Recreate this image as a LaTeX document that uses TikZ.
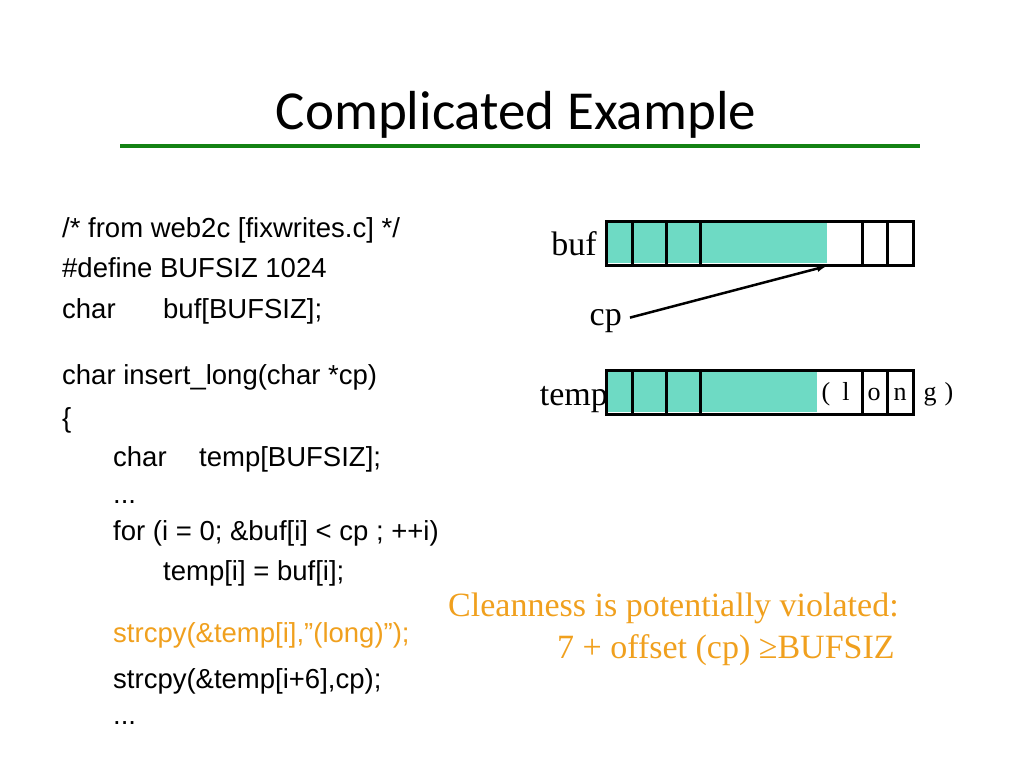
\documentclass[tikz,border=0pt]{standalone}
\usepackage{fontspec}
\usetikzlibrary{arrows.meta}
\setmainfont{Liberation Serif}
\newfontfamily\codefont{Liberation Sans}
\newfontfamily\titlefont{Carlito}
\definecolor{hatch}{RGB}{110,218,196}
\definecolor{ttlgreen}{RGB}{20,130,20}
\definecolor{orng}{RGB}{240,160,30}
\begin{document}
\begin{tikzpicture}[x=1pt,y=-1pt,
  code/.style={anchor=base west,inner sep=0,font=\codefont\fontsize{27.5}{32}\selectfont},
  lbl/.style={inner sep=0,font=\fontsize{34}{38}\selectfont},
  ch/.style={inner sep=0,anchor=base,font=\fontsize{26}{30}\selectfont},
  box/.style={draw,line width=3pt},
  cellsep/.style={line width=3pt}]
\useasboundingbox (0,0) rectangle (1024,768);
\node[inner sep=0,anchor=base,font=\titlefont\fontsize{55}{60}\selectfont] (title) at (516,129) {Complicated Example};
\draw[ttlgreen,line width=4pt] (120,146) -- (920,146);
% code
\node[code] (c1) at (62,237) {/* from web2c [fixwrites.c] */};
\node[code] (c2) at (62,277) {\#define BUFSIZ 1024};
\node[code] (c3) at (62,318) {char};
\node[code] (c3b) at (163,318) {buf[BUFSIZ];};
\node[code] (c4) at (62,384) {char insert\_long(char *cp)};
\node[code] (c5) at (62,427) {\{};
\node[code] (c6) at (113,466) {char};
\node[code] (c6b) at (199,466) {temp[BUFSIZ];};
\node[code] (c7) at (113,503) {...};
\node[code] (c8) at (113,540) {for (i = 0; \&buf[i] < cp ; ++i)};
\node[code] (c9) at (163,580) {temp[i] = buf[i];};
\node[code,text=orng] (c10) at (113,642) {strcpy(\&temp[i],”(long)”);};
\node[code] (c11) at (113,688) {strcpy(\&temp[i+6],cp);};
\node[code] (c12) at (113,724) {...};
% buf array
\fill[hatch] (608,223) rectangle (827,263);
\draw[box] (606,221) rectangle (913,265);
\foreach \x in {632,666,700,862,887} \draw[cellsep] (\x,221) -- (\x,265);
\node[lbl,anchor=base east] (buf) at (597,255) {buf};
% temp array
\fill[hatch] (608,372) rectangle (817,412);
\draw[box] (606,370) rectangle (913,414);
\foreach \x in {632,666,700,862,887} \draw[cellsep] (\x,370) -- (\x,414);
\node[lbl,anchor=base east] (temp) at (608,405) {temp};
\node[ch] (p1) at (826,400) {(};
\node[ch] (l) at (846,400) {l};
\node[ch] (o) at (874,400) {o};
\node[ch] (n) at (900,400) {n};
\node[ch] (g) at (930,400) {g};
\node[ch] (p2) at (949,400) {)};
% cp
\node[lbl,anchor=base east] (cp) at (622,325) {cp};
\coordinate (cptip) at (827,266);
\draw[line width=2.5pt,-{Latex[length=10pt,width=7pt]}] (cp.east) ++(8,-3) -- (cptip);
% note
\node[lbl,anchor=base west,text=orng] (n1) at (448,616) {Cleanness is potentially violated:};
\node[lbl,anchor=base west,text=orng] (n2) at (557,658) {7 + offset (cp) ≥BUFSIZ};
\end{tikzpicture}
\end{document}
